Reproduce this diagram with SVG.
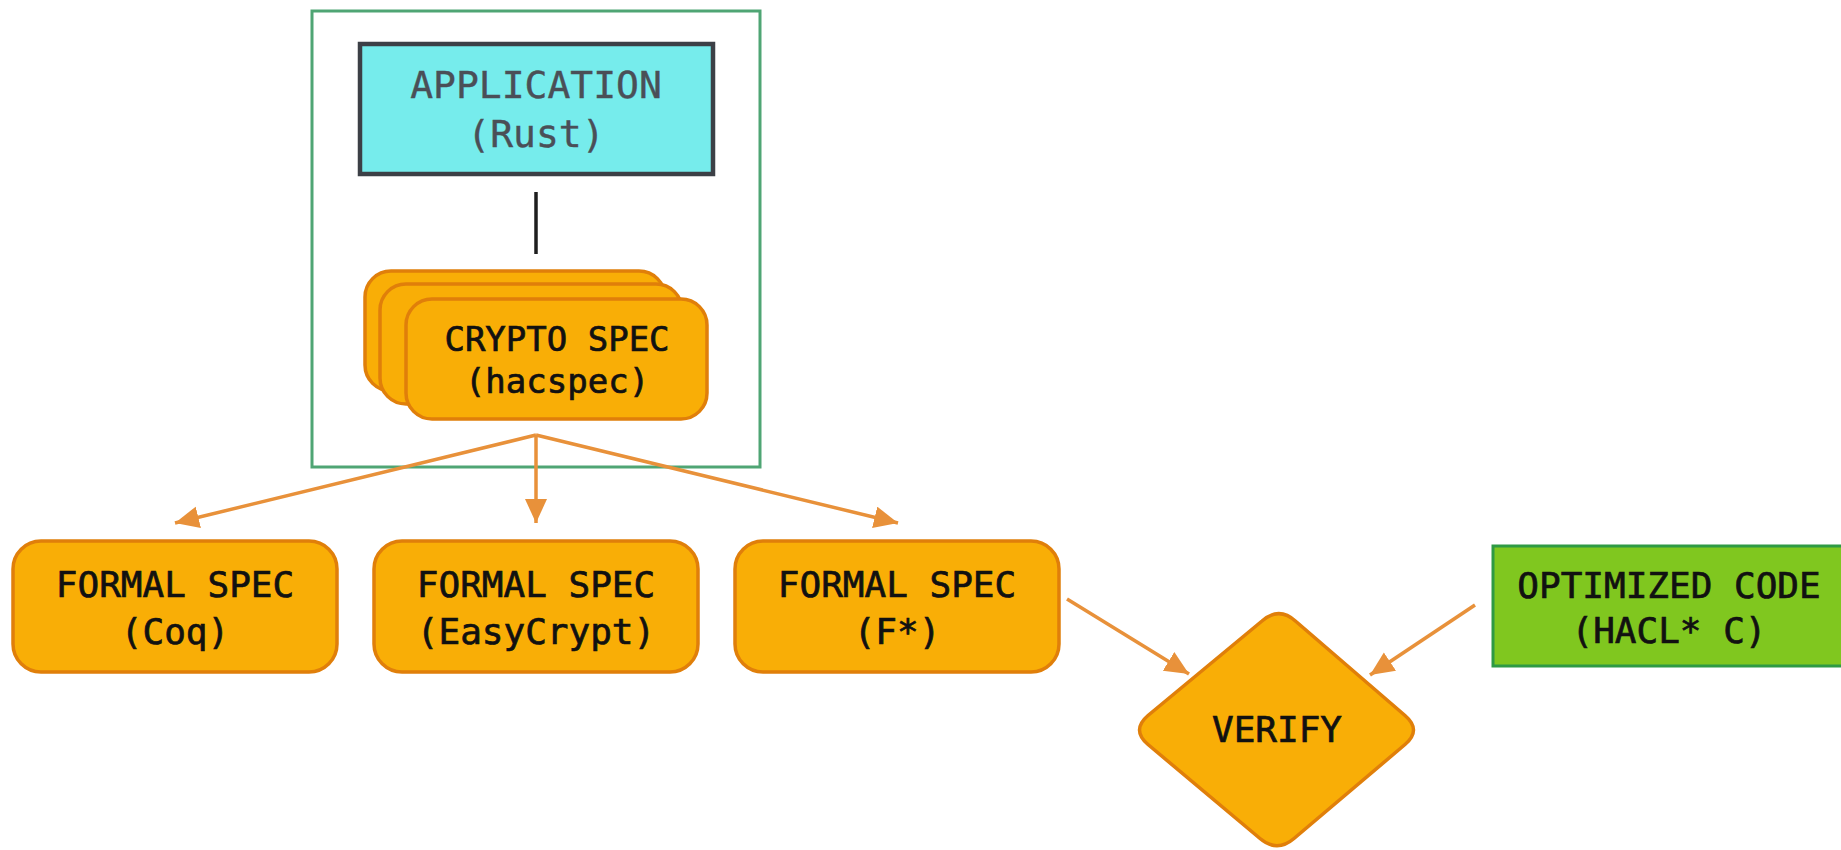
<svg xmlns="http://www.w3.org/2000/svg" width="1841" height="850" viewBox="0 0 1841 850">
<defs>
<style>
.t{font-family:"DejaVu Sans Mono","Liberation Mono",monospace;text-anchor:middle;fill:#111;stroke:#111;stroke-width:0.7}
.g{fill:#4a4f57;stroke:#4a4f57;stroke-width:0.4}
.orange{fill:#f9ae06;stroke:#e07f0a;stroke-width:3.5}
.conn{stroke:#e8913a;stroke-width:3.5;fill:none}
</style>
<marker id="ah" markerUnits="userSpaceOnUse" markerWidth="28" markerHeight="24" refX="24" refY="11" orient="auto">
<path d="M0,0 L24,11 L0,22 Z" fill="#e8913a"/>
</marker>
</defs>
<rect width="1841" height="850" fill="#fff"/>
<g id="frame">
<rect x="312" y="11" width="448" height="456" fill="none" stroke="#4fa574" stroke-width="3"/>
</g>
<g id="application">
<rect x="360" y="44" width="353" height="130" fill="#76ecec" stroke="#3c4046" stroke-width="4.5"/>
<text class="t g" x="536" y="98" font-size="38">APPLICATION</text>
<text class="t g" x="536" y="147" font-size="38">(Rust)</text>
</g>
<g id="crypto-spec">
<rect class="orange" x="365" y="271" width="300" height="120" rx="26"/>
<rect class="orange" x="380" y="284" width="302" height="120" rx="26"/>
<rect class="orange" x="406" y="299" width="301" height="120" rx="26"/>
<text class="t" x="557" y="351" font-size="34">CRYPTO SPEC</text>
<text class="t" x="557" y="393" font-size="34">(hacspec)</text>
</g>
<g id="formal-coq">
<rect class="orange" x="13" y="541" width="324" height="131" rx="28"/>
<text class="t" x="175" y="597" font-size="36">FORMAL SPEC</text>
<text class="t" x="175" y="644" font-size="36">(Coq)</text>
</g>
<g id="formal-easycrypt">
<rect class="orange" x="374" y="541" width="324" height="131" rx="28"/>
<text class="t" x="536" y="597" font-size="36">FORMAL SPEC</text>
<text class="t" x="536" y="644" font-size="36">(EasyCrypt)</text>
</g>
<g id="formal-fstar">
<rect class="orange" x="735" y="541" width="324" height="131" rx="28"/>
<text class="t" x="897" y="597" font-size="36">FORMAL SPEC</text>
<text class="t" x="897" y="644" font-size="36">(F*)</text>
</g>
<g id="verify">
<path class="orange" d="M1262,621 Q1279,606 1296,621.5 L1405,715.5 Q1422,730 1405,744.5 L1294,838.5 Q1277,853 1260,838.5 L1148,744.5 Q1131,730 1148,715.5 Z"/>
<text class="t" x="1277" y="742" font-size="36">VERIFY</text>
</g>
<g id="optimized-code">
<rect x="1493" y="546" width="352" height="120" fill="#80c71f" stroke="#2e9a44" stroke-width="3"/>
<text class="t" x="1669" y="598" font-size="36">OPTIMIZED CODE</text>
<text class="t" x="1669" y="643" font-size="36">(HACL* C)</text>
</g>
<g id="connectors">
<line x1="536" y1="192" x2="536" y2="254" stroke="#1e1e1e" stroke-width="3.5"/>
<line class="conn" x1="536" y1="435" x2="175" y2="523" marker-end="url(#ah)"/>
<line class="conn" x1="536" y1="435" x2="536" y2="523" marker-end="url(#ah)"/>
<line class="conn" x1="536" y1="435" x2="898" y2="523" marker-end="url(#ah)"/>
<line class="conn" x1="1067" y1="599" x2="1189" y2="674" marker-end="url(#ah)"/>
<line class="conn" x1="1475" y1="605" x2="1370" y2="675" marker-end="url(#ah)"/>
</g>
</svg>
